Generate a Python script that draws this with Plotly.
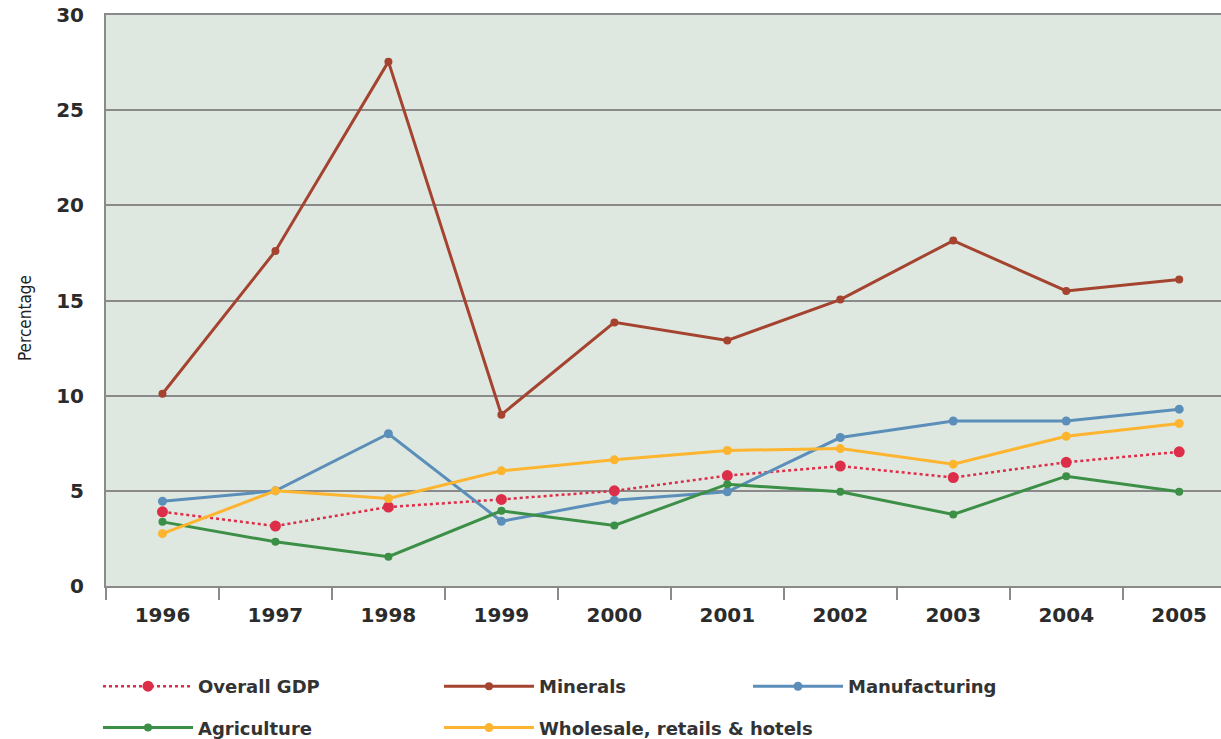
import plotly.graph_objects as go

years = ["1996", "1997", "1998", "1999", "2000", "2001", "2002", "2003", "2004", "2005"]
overall_gdp = [3.9, 3.15, 4.15, 4.55, 5.0, 5.8, 6.3, 5.7, 6.5, 7.05]
minerals = [10.1, 17.6, 27.55, 9.0, 13.85, 12.9, 15.05, 18.15, 15.5, 16.1]
manufacturing = [4.45, 5.0, 8.0, 3.4, 4.5, 4.95, 7.8, 8.67, 8.67, 9.29]
agriculture = [3.37, 2.32, 1.54, 3.95, 3.18, 5.35, 4.95, 3.76, 5.77, 4.95]
wholesale = [2.75, 5.0, 4.6, 6.05, 6.63, 7.12, 7.22, 6.4, 7.87, 8.54]

series = [
    ("Overall GDP", overall_gdp, "#dc2e48", "dot", 2.5, 11, "legend"),
    ("Minerals", minerals, "#a4432f", "solid", 3, 8, "legend2"),
    ("Manufacturing", manufacturing, "#5b8fba", "solid", 3, 9, "legend3"),
    ("Agriculture", agriculture, "#3c8f47", "solid", 3, 8, "legend"),
    ("Wholesale, retails & hotels", wholesale, "#fdb42f", "solid", 3, 9, "legend2"),
]

fig = go.Figure()
for name, vals, color, dash, lw, ms, lg in series:
    fig.add_trace(go.Scatter(
        x=years, y=vals, name=name, mode="lines+markers",
        line=dict(color=color, width=lw, dash=dash),
        marker=dict(color=color, size=ms),
        legend=lg, legendgroup=name,
    ))

W, H = 1221, 739
L, T, B = 106, 15, 153


def cx(px):
    return px / W


def cy(py):
    return 1 - py / H


legend_font = dict(family="DejaVu Sans", size=18, color="#333333", weight="bold")
common_leg = dict(orientation="v", xanchor="left", yanchor="top", font=legend_font,
                  xref="container", yref="container",
                  bgcolor="rgba(0,0,0,0)", tracegroupgap=15, itemwidth=90)

fig.update_layout(
    width=W, height=H,
    margin=dict(l=L, r=0, t=T, b=B, autoexpand=False),
    plot_bgcolor="#dfe8e0",
    paper_bgcolor="white",
    showlegend=True,
    legend=dict(x=cx(98), y=cy(668), **common_leg),
    legend2=dict(x=cx(439), y=cy(668), **common_leg),
    legend3=dict(x=cx(748), y=cy(668), **common_leg),
    xaxis=dict(
        type="category", categoryorder="array", categoryarray=years,
        range=[-0.5, 9.37],
        showgrid=False, zeroline=False,
        showline=True, linecolor="#8a8a8a", linewidth=2, mirror=True,
        ticks="outside", tickson="boundaries", ticklen=12, tickwidth=2, tickcolor="#8a8a8a",
        tickfont=dict(family="DejaVu Sans", size=20, color="#2b2b2b", weight="bold"),
        ticklabelstandoff=10,
    ),
    yaxis=dict(
        range=[0, 30], dtick=5, tick0=0,
        showgrid=True, gridcolor="#8a8a8a", gridwidth=1.5,
        zeroline=False,
        showline=True, linecolor="#8a8a8a", linewidth=2,
        ticks="",
        tickfont=dict(family="DejaVu Sans", size=20, color="#2b2b2b", weight="bold"),
        ticklabelstandoff=16,
    ),
    annotations=[dict(
        text="Percentage", textangle=-90, showarrow=False,
        xref="paper", yref="paper", x=(25 - L) / (W - L), y=(H - B - 318) / (H - T - B),
        xanchor="center", yanchor="middle",
        font=dict(family="DejaVu Sans Condensed, Liberation Sans Narrow", size=17, color="#222222"),
    )],
)

fig.write_html("out.html")
